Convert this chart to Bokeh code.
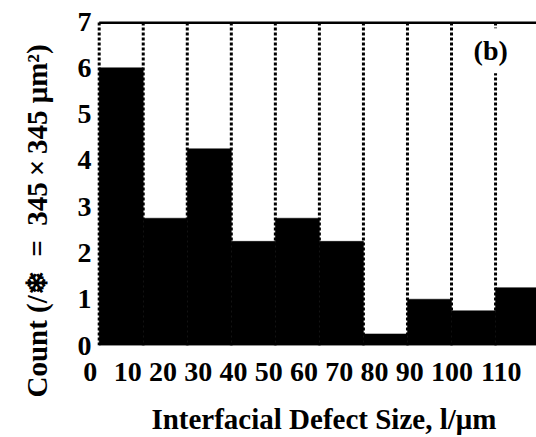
from bokeh.plotting import figure
from bokeh.models import Range1d, FixedTicker, Label, Title
from bokeh.embed import file_html
from bokeh.resources import INLINE

# ---- data ----
bin_lower = [0, 10, 20, 30, 40, 50, 60, 70, 80, 90]
bin_width = 10
counts = [6.0, 2.75, 4.25, 2.25, 2.75, 2.25, 0.25, 1.0, 0.75, 1.25]
x_tick_labels = ["0", "10", "20", "30", "40", "50", "60", "70", "80", "90", "100", "110"]
y_ticks = [0, 1, 2, 3, 4, 5, 6, 7]
x_title = "\u00a0\u00a0\u00a0Interfacial Defect Size, l/\u03bcm"
y_title = "Count (/\u2744\u2002=\u2002345\u2009\u00d7\u2009345 \u03bcm\u00b2)"
panel_tag = "(b)"

FONT = "Liberation Serif"
FS = "28px"

W, H = 536, 437
x_start, x_end = -2.2, 99.3
y_start, y_end = 0, 7

p = figure(width=W, height=H, output_backend="svg", toolbar_location=None,
           x_range=Range1d(x_start, x_end), y_range=Range1d(y_start, y_end),
           min_border_left=89, min_border_right=0, min_border_top=21,
           min_border_bottom=90)
p.outline_line_color = None
p.xgrid.visible = False
p.ygrid.visible = False
p.background_fill_color = "white"
p.border_fill_color = "white"

lefts = list(bin_lower)
rights = [b + bin_width for b in bin_lower]
edges = lefts + [rights[-1]]

# dotted bin boundaries (behind the bars)
p.segment(x0=edges, y0=[y_start] * len(edges), x1=edges, y1=[y_end] * len(edges),
          line_color="black", line_width=3, line_dash="3 2")

# bars
p.quad(left=lefts, right=rights, bottom=[0] * len(counts), top=counts,
       fill_color="black", line_color="black", line_width=0.5)

# top border
p.segment(x0=[edges[0]], y0=[y_end], x1=[x_end], y1=[y_end],
          line_color="black", line_width=5)

# x tick label positions: laid out as a run of bold serif text
digit_w, space_w, first_gap = 3.2, 1.6, 3.75
cursor = -2.05 - digit_w / 2
x_label_pos = []
for i, lab in enumerate(x_tick_labels):
    w = len(lab) * digit_w
    x_label_pos.append(round(cursor + w / 2, 3))
    cursor += w + (first_gap if i == 0 else space_w)

xa = p.xaxis[0]
xa.ticker = FixedTicker(ticks=x_label_pos)
xa.major_label_overrides = {pos: lab for pos, lab in zip(x_label_pos, x_tick_labels)}
xa.axis_line_color = None
xa.major_tick_line_color = None
xa.minor_tick_line_color = None
xa.major_tick_out = 0
xa.major_label_standoff = 17
xa.major_label_text_font = FONT
xa.major_label_text_font_style = "bold"
xa.major_label_text_font_size = FS
xa.major_label_text_color = "black"
xa.axis_label = x_title
xa.axis_label_standoff = 19
xa.axis_label_text_font = FONT
xa.axis_label_text_font_style = "bold"
xa.axis_label_text_font_size = "29px"
xa.axis_label_text_color = "black"

ya = p.yaxis[0]
ya.ticker = FixedTicker(ticks=y_ticks)
ya.axis_line_color = None
ya.major_tick_line_color = None
ya.minor_tick_line_color = None
ya.major_tick_out = 0
ya.major_label_standoff = -2
ya.major_label_text_font = FONT
ya.major_label_text_font_style = "bold"
ya.major_label_text_font_size = FS
ya.major_label_text_color = "black"

# y axis title (placed in the left panel, shifted down like the reference)
p.add_layout(Title(text=y_title, align="left", offset=-52, standoff=40,
                   vertical_align="top", text_font=FONT, text_font_style="bold",
                   text_font_size="29px", text_color="black"), "left")

# panel tag with white box
p.add_layout(Label(x=88.9, y=6.37, text=panel_tag, text_align="center",
                   text_baseline="middle", text_font=FONT, text_font_style="bold",
                   text_font_size=FS, text_color="black",
                   background_fill_color="white", padding=7))

open("out.html", "w").write(file_html(p, INLINE))
